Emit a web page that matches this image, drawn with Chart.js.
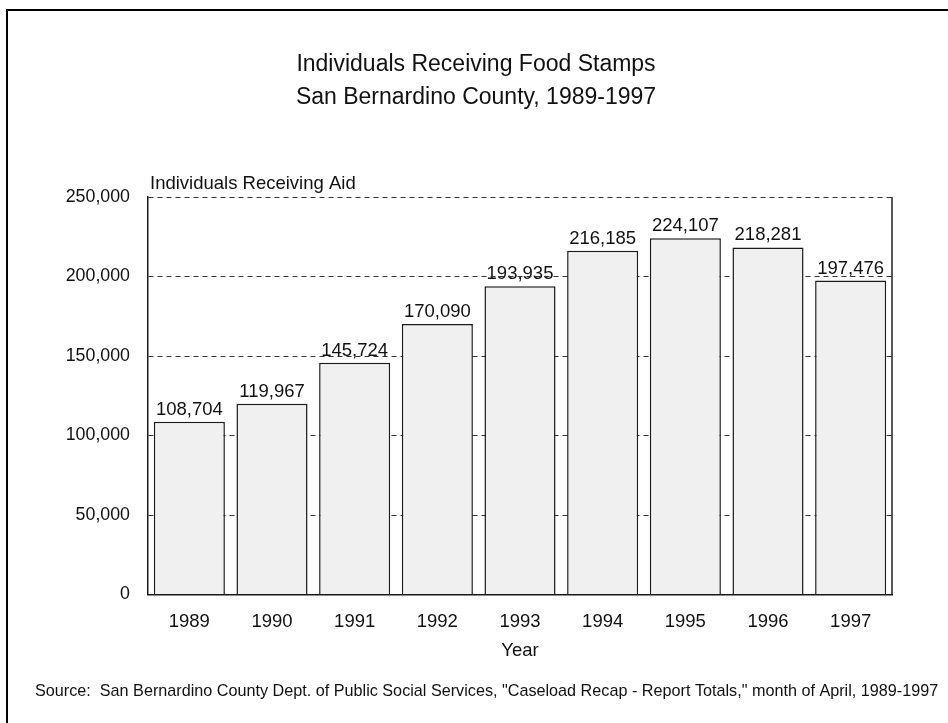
<!DOCTYPE html>
<html>
  <head>
    <title>Individuals Receiving Food Stamps</title>
    <script src="https://cdn.jsdelivr.net/npm/chart.js"></script>
    <style>
      html, body {
        margin: 0;
        padding: 0;
        overflow: hidden;
        background: #fff;
      }
      .container {
        position: relative;
        width: 948px;
        height: 723px;
      }
    </style>
  </head>
  <body>
    <div class="container">
      <canvas id="chart" width="948" height="723"></canvas>
    </div>

    <script>
      const years = ['1989', '1990', '1991', '1992', '1993', '1994', '1995', '1996', '1997'];
      const recipients = [108704, 119967, 145724, 170090, 193935, 216185, 224107, 218281, 197476];
      const yTicks = [0, 50000, 100000, 150000, 200000, 250000];

      const titleLines = ['Individuals Receiving Food Stamps', 'San Bernardino County, 1989-1997'];
      const yLabel = 'Individuals Receiving Aid';
      const xLabel = 'Year';
      const sourceNote = 'Source:  San Bernardino County Dept. of Public Social Services, "Caseload Recap - Report Totals," month of April, 1989-1997';

      const FONT = '"Liberation Sans", Arial, Helvetica, sans-serif';
      const fmt = n => n.toLocaleString('en-US');

      // page frame, then value labels, so the dashed grid runs across them
      const valueLabels = {
        id: 'valueLabels',
        beforeDraw(chart) {
          const ctx = chart.ctx;
          ctx.save();
          ctx.fillStyle = '#000';
          ctx.fillRect(6, 9, 2, chart.height);
          ctx.fillRect(6, 9, chart.width, 2);

          const meta = chart.getDatasetMeta(0);
          ctx.font = '18.5px ' + FONT;
          ctx.fillStyle = '#111';
          ctx.textAlign = 'center';
          ctx.textBaseline = 'alphabetic';
          meta.data.forEach((bar, i) => {
            ctx.fillText(fmt(recipients[i]), bar.x, bar.y - 7);
          });
          ctx.restore();
        }
      };

      // titles, axis captions, source line and the right edge of the plot box
      const decorations = {
        id: 'decorations',
        afterDraw(chart) {
          const ctx = chart.ctx;
          const area = chart.chartArea;
          ctx.save();
          ctx.strokeStyle = '#222';
          ctx.lineWidth = 1.5;
          ctx.beginPath();
          ctx.moveTo(area.right, area.top);
          ctx.lineTo(area.right, area.bottom);
          ctx.stroke();

          ctx.fillStyle = '#111';
          ctx.textBaseline = 'middle';
          ctx.textAlign = 'center';
          ctx.font = '23px ' + FONT;
          ctx.fillText(titleLines[0], chart.width / 2 + 2, 65);
          ctx.fillText(titleLines[1], chart.width / 2 + 2, 98);

          ctx.font = '18.5px ' + FONT;
          ctx.fillText(xLabel, (area.left + area.right) / 2, 651);
          ctx.textAlign = 'left';
          ctx.fillText(yLabel, area.left + 2, 184);

          ctx.font = '16.2px ' + FONT;
          ctx.fillText(sourceNote, 35, 692);
          ctx.restore();
        }
      };

      const ctx = document.getElementById('chart').getContext('2d');
      const chart = new Chart(ctx, {
        type: 'bar',
        data: {
          labels: years,
          datasets: [{
            data: recipients,
            backgroundColor: '#f0f0f0',
            borderColor: '#1a1a1a',
            borderWidth: 1.5,
            barPercentage: 0.86,
            categoryPercentage: 1
          }]
        },
        options: {
          responsive: false,
          animation: false,
          devicePixelRatio: 1,
          layout: {
            padding: { top: 197, right: 56, left: 0, bottom: 0 }
          },
          scales: {
            x: {
              grid: { display: false, drawTicks: false },
              border: { display: true, color: '#1a1a1a', width: 1.5 },
              ticks: {
                color: '#111',
                font: { family: FONT, size: 18.5 },
                padding: 16,
                maxRotation: 0
              },
              afterFit(scale) { scale.height = 723 - 594.5; }
            },
            y: {
              min: 0,
              max: 250000,
              afterBuildTicks(scale) {
                scale.ticks = yTicks.map(v => ({ value: v }));
              },
              grid: {
                color: '#333',
                lineWidth: 1,
                drawTicks: false
              },
              border: { display: true, color: '#1a1a1a', width: 1.5 },
              ticks: {
                color: '#111',
                font: { family: FONT, size: 17.8 },
                padding: 18,
                callback: v => fmt(v)
              },
              afterFit(scale) { scale.width = 148; }
            }
          },
          plugins: {
            legend: { display: false },
            title: { display: false },
            tooltip: { enabled: false }
          }
        },
        plugins: [valueLabels, decorations]
      });

      // dashed horizontal grid
      chart.options.scales.y.border.dash = [5, 4];
      chart.update();
    </script>
  </body>
</html>
